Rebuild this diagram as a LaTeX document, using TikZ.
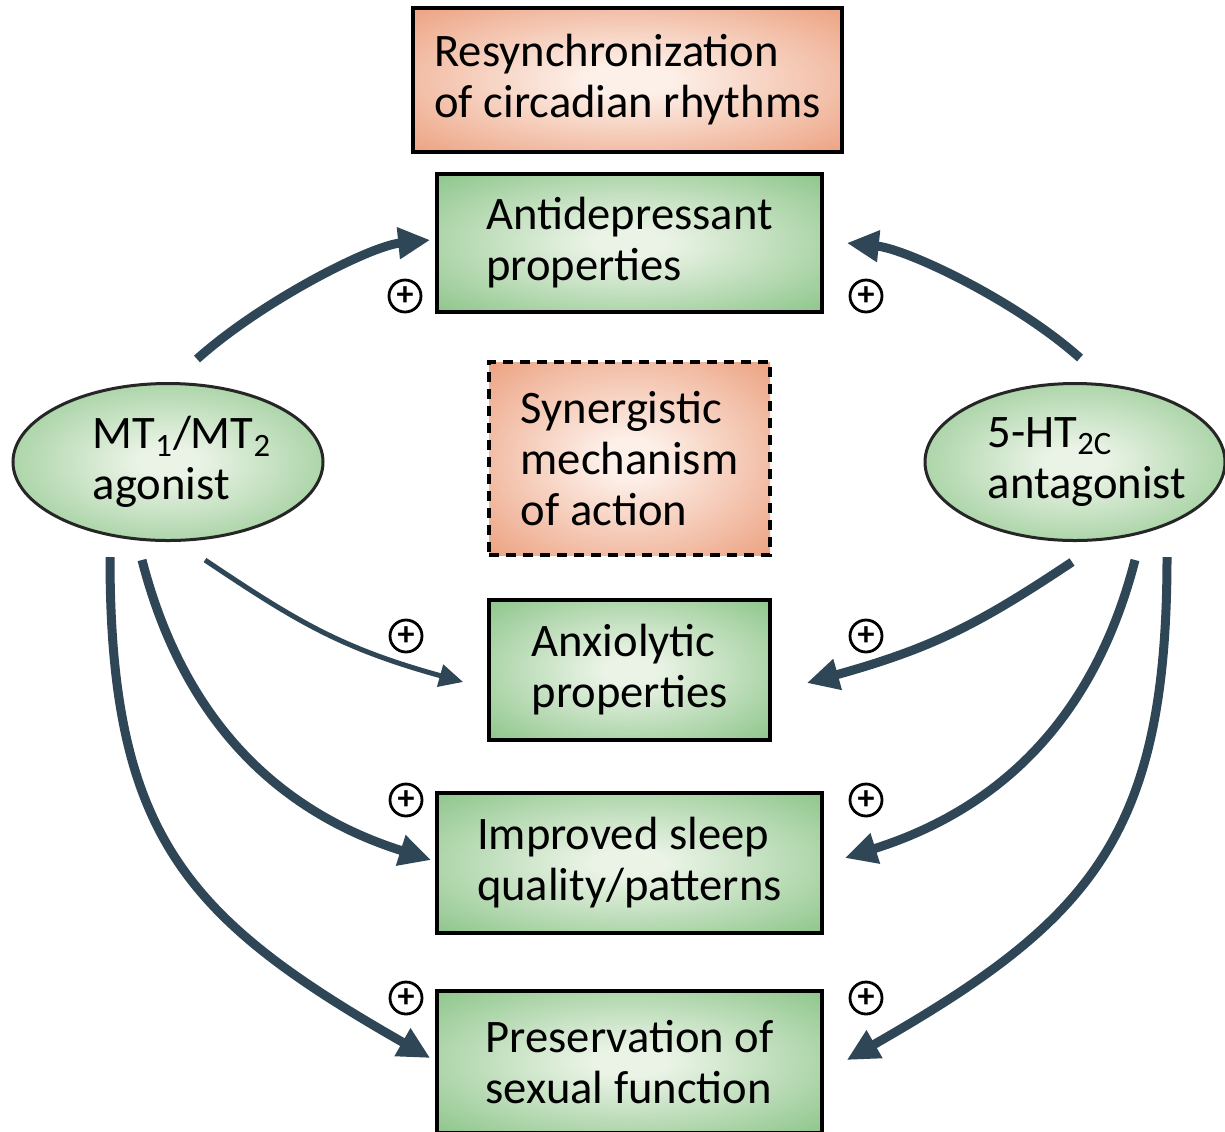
\documentclass[tikz,border=0pt]{standalone}
\usepackage{fontspec}
\setmainfont{Carlito}
\usetikzlibrary{arrows.meta,shapes.geometric,calc}
\definecolor{grn}{RGB}{140,197,137}
\definecolor{grnL}{RGB}{234,243,230}
\definecolor{sal}{RGB}{236,161,128}
\definecolor{salL}{RGB}{253,240,233}
\definecolor{arr}{RGB}{47,70,86}
\pgfdeclareradialshading{grnshade}{\pgfpoint{0bp}{0bp}}{color(0bp)=(grnL); color(5bp)=(grnL); color(36bp)=(grn); color(50bp)=(grn)}
\pgfdeclareradialshading{salshade}{\pgfpoint{0bp}{0bp}}{color(0bp)=(salL); color(5bp)=(salL); color(36bp)=(sal); color(50bp)=(sal)}
\begin{document}
\begin{tikzpicture}[x=0.5pt,y=-0.5pt,
  box/.style={draw=black, line width=1.8pt, rectangle, align=left, inner sep=0pt,
    font=\fontsize{23.3}{25.5}\selectfont},
  gbox/.style={box, shading=grnshade},
  sbox/.style={box, shading=salshade},
  ell/.style={ellipse, draw=black!85, line width=1.5pt, shading=grnshade, inner sep=0pt,
    align=left, font=\fontsize{23.3}{25.5}\selectfont},
  conn/.style={draw=arr, line width=4.5pt, -{Triangle[length=16pt,width=15pt]}},
  thinconn/.style={draw=arr, line width=2.5pt, -{Triangle[length=12pt,width=11pt]}},
  plus/.style={circle, draw=black, line width=1.4pt, fill=white, inner sep=0pt,
    minimum size=16pt, font=\fontsize{17}{17}\bfseries\selectfont}
]
\useasboundingbox[fill=white] (0,0) rectangle (1225,1131);

\node[sbox, minimum width=214.5pt, minimum height=72pt] (resync) at (627.5,80)
  {Resynchronization\\of circadian rhythms};
\node[gbox, minimum width=192.5pt, minimum height=69pt] (anti) at (629.5,243)
  {Antidepressant\\properties};
\node[sbox, line width=2pt, dash pattern=on 5pt off 3.5pt, minimum width=140.5pt, minimum height=96.5pt] (syn) at (629.5,458.5)
  {Synergistic\\mechanism\\of action};
\node[gbox, minimum width=140.5pt, minimum height=70pt] (anx) at (629.5,670)
  {Anxiolytic\\properties};
\node[gbox, minimum width=192.5pt, minimum height=70pt] (sleep) at (629.5,863)
  {Improved sleep\\quality/patterns};
\node[gbox, minimum width=192.5pt, minimum height=71pt] (pres) at (629.5,1062)
  {Preservation of\\sexual function};

\node[ell, inner xsep=-8pt, minimum width=155pt, minimum height=78.5pt] (mt) at (168,462)
  {\hspace*{14pt}MT\textsubscript{1}/MT\textsubscript{2}\\\hspace*{14pt}agonist};
\node[ell, inner xsep=-8pt, minimum width=150pt, minimum height=78.5pt] (ht) at (1075,462)
  {\hspace*{12pt}5-HT\textsubscript{2C}\\\hspace*{12pt}antagonist};

% connectors from MT1/MT2 agonist
\draw[conn] ($(mt.north)+(29,-23)$) .. controls +(65,-58) and +(-60,6) .. ($(anti.west)+(-5,-3)$);
\draw[thinconn] ($(mt.south)+(37,18)$) .. controls +(91,61) and +(-123,-34) .. ($(anx.west)+(-24,12)$);
\draw[conn] ($(mt.south)+(-26,18)$) .. controls +(41,159) and +(-155,-49) .. ($(sleep.west)+(-4,-3)$);
\draw[conn] ($(mt.south)+(-58,15)$) .. controls +(0,280) and +(-243,-139) .. ($(pres.west)+(-5,-4)$);

% connectors from 5-HT2C antagonist
\draw[conn] ($(ht.north)+(5,-24)$) .. controls +(-65,-58) and +(60,6) .. ($(anti.east)+(23,0)$);
\draw[conn] ($(ht.south)+(-3,20)$) .. controls +(-93,62) and +(126,-35) .. ($(anx.east)+(35,13)$);
\draw[conn] ($(ht.south)+(60,18)$) .. controls +(-41,159) and +(155,-49) .. ($(sleep.east)+(21,-5)$);
\draw[conn] ($(ht.south)+(92,15)$) .. controls +(0,280) and +(243,-139) .. ($(pres.east)+(23,-2)$);

% plus signs
\node[plus] (p1) at (405,296) {+};
\node[plus] (p2) at (866,296) {+};
\node[plus] (p3) at (406,636) {+};
\node[plus] (p4) at (866,636) {+};
\node[plus] (p5) at (406,800) {+};
\node[plus] (p6) at (866,800) {+};
\node[plus] (p7) at (406,998) {+};
\node[plus] (p8) at (866,998) {+};
\end{tikzpicture}
\end{document}
